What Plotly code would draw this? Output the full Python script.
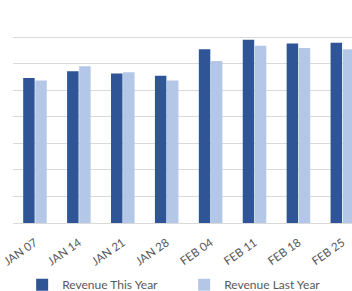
import plotly.graph_objects as go

categories = ["JAN 07", "JAN 14", "JAN 21", "JAN 28", "FEB 04", "FEB 11", "FEB 18", "FEB 25"]
revenue_this_year = [5.46, 5.71, 5.63, 5.54, 6.54, 6.90, 6.76, 6.79]
revenue_last_year = [5.37, 5.90, 5.68, 5.37, 6.10, 6.67, 6.59, 6.54]

fig = go.Figure()
fig.add_trace(go.Bar(x=categories, y=revenue_this_year, name="Revenue This Year",
                     marker=dict(color="#2F5597", line=dict(width=0))))
fig.add_trace(go.Bar(x=categories, y=revenue_last_year, name="Revenue Last Year",
                     marker=dict(color="#B4C7E7", line=dict(width=0))))

fig.update_layout(
    width=352, height=291,
    margin=dict(l=13, r=0, t=10, b=68, autoexpand=False),
    paper_bgcolor="white", plot_bgcolor="white",
    barmode="group", bargap=0.45, bargroupgap=0.05,
    font=dict(family="Lato", color="#595959", size=11),
    showlegend=True,
    legend=dict(orientation="h", x=0.027, y=-0.29, xanchor="left", yanchor="middle",
                font=dict(size=12, color="#595959"), entrywidth=117, entrywidthmode="pixels",
                itemwidth=30),
    xaxis=dict(range=[-0.5, 7.22], tickangle=-35, showgrid=False, showline=False,
               tickfont=dict(size=11.5, color="#595959"), ticks="", automargin=False,
               ticklabelstandoff=10),
    yaxis=dict(range=[0, 8.02], dtick=1, showgrid=True, gridcolor="#D9D9D9", gridwidth=1,
               showticklabels=False, zeroline=True, zerolinecolor="#D9D9D9", zerolinewidth=1,
               showline=False, ticks="", automargin=False),
)

fig.write_html("out.html", config={"displayModeBar": False},
               post_script="document.body.style.margin='0';")
